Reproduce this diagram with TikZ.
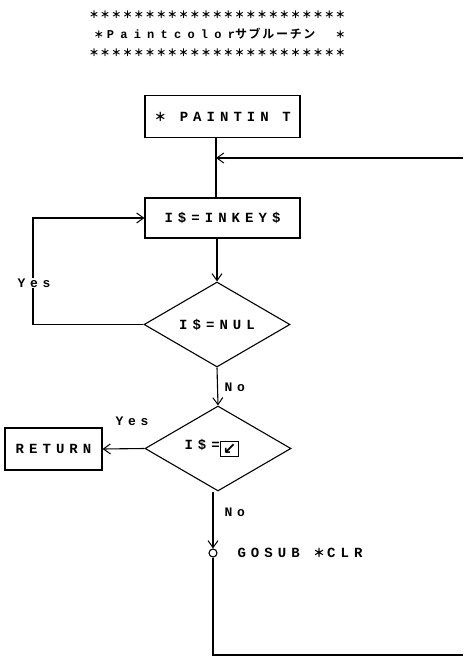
\documentclass[tikz,border=0pt]{standalone}
\usepackage{fontspec}
\usetikzlibrary{arrows.meta,shapes.geometric,calc}
\setmainfont{Liberation Sans}
\newfontfamily\mono{Liberation Mono Bold}[LetterSpace=36]
\newfontfamily\tmono{Liberation Mono Bold}[LetterSpace=52]
\newfontfamily\jpfont{Noto Sans CJK JP Bold}
\newfontfamily\jptitle{Noto Sans CJK JP Bold}[LetterSpace=14]
\newfontfamily\jpstar{Noto Sans CJK JP Black}[LetterSpace=12]
\newfontfamily\djv{DejaVu Sans Bold}
\newcommand{\bigstar}{{\jpstar\fontsize{12}{12}\selectfont ＊}}
\begin{document}
\begin{tikzpicture}[x=1pt,y=-1pt,
  line width=1.1pt,
  txt/.style={font=\mono\fontsize{14}{14}\selectfont, inner sep=1pt},
  box/.style={draw, rectangle, minimum height=42pt, font=\mono\fontsize{14}{14}\selectfont},
  dec/.style={draw, diamond, aspect=1.7, minimum width=146pt, minimum height=85pt, inner sep=0pt, font=\mono\fontsize{14}{14}\selectfont},
  arr/.style={-{Straight Barb[length=7pt,width=10pt,line width=1pt]}},
  yes/.style={font=\mono\fontsize{13}{13}\selectfont, inner sep=1pt, fill=white}
]
\useasboundingbox (0,0) rectangle (463,660);
% title
\node[font=\jpstar\fontsize{10}{10}\selectfont, inner sep=0pt, anchor=east] (t1) at (346,15) {＊＊＊＊＊＊＊＊＊＊＊＊＊＊＊＊＊＊＊＊＊＊＊};
\node[inner sep=0pt, anchor=east] (t2) at (346,34) {{\jpstar\fontsize{10}{10}\selectfont ＊}\hspace{3pt}{\tmono\fontsize{12}{12}\selectfont Paintcolor}{\jptitle\fontsize{12}{12}\selectfont サブルーチン}\hspace{20pt}{\jpstar\fontsize{10}{10}\selectfont ＊}};
\node[font=\jpstar\fontsize{10}{10}\selectfont, inner sep=0pt, anchor=east] (t3) at (346,53) {＊＊＊＊＊＊＊＊＊＊＊＊＊＊＊＊＊＊＊＊＊＊＊};
% main nodes
\node[box, minimum width=155pt] (paint) at (222.5,116.5) {\bigstar\ PAINTIN T};
\node[box, minimum width=155pt, minimum height=40pt] (inkey) at (222.5,218) {I\$=INKEY\$};
\node[dec] (d1) at (217,324.5) {I\$=NUL};
\node[dec] (d2) at (218,448.5) {I\$={\setlength\fboxsep{1.5pt}\setlength\fboxrule{1.6pt}\raisebox{-0.3em}{\fbox{\djv\fontsize{16}{16}\selectfont ↙}}}\kern12pt};
\node[box, minimum width=97pt] (ret) at (53.5,449) {RETURN};
\draw[line width=1.1pt] (213,553) circle (4pt);
\node[circle, minimum size=8pt, inner sep=0pt] (gs) at (213,553) {};
\node[txt, anchor=west] (gstxt) at (236,553) {GOSUB \bigstar\hspace{2pt}CLR};
% coordinates
\coordinate (mx) at (216,0);
\coordinate (rtop) at (463,158);
\coordinate (rbot) at (463,655);
\coordinate (lx) at (33,0);
% connectors
\draw (paint.south -| mx) -- (inkey.north -| mx);
\draw[arr] (rtop) -- (rtop -| mx);
\draw[arr] (inkey.south -| d1.north) -- (d1.north);
\draw[arr] (d1.west) -- (d1.west -| lx) -- (inkey.west -| lx) -- (inkey.west);
\node[yes] (y1) at (34,283) {Yes};
\draw[arr] (d1.south) -- (d2.north);
\node[yes, fill=none, anchor=west] (n1) at (223,387) {No};
\draw[arr] (d2.west) -- (ret.east);
\node[yes, fill=none] (y2) at (132,421) {Yes};
\draw[arr] (d2.south -| gs) -- (gs.north);
\node[yes, fill=none, anchor=west] (n2) at (223,512) {No};
\draw (gs.south) -- (gs |- rbot) -- (rbot);
\end{tikzpicture}
\end{document}
